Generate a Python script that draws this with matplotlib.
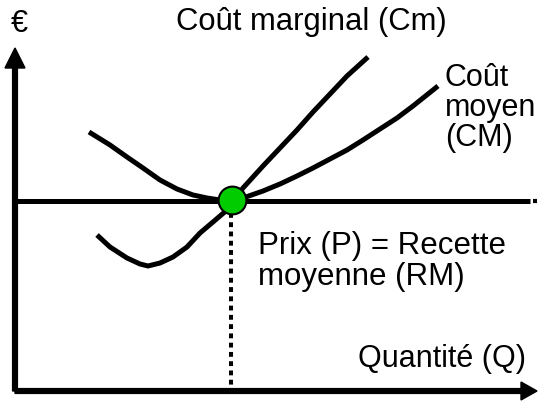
import matplotlib.pyplot as plt

plt.rcParams['font.family'] = ['Liberation Sans', 'DejaVu Sans']

cm_q = [97, 110, 127, 140, 148, 160, 173, 187, 200, 213, 227, 243, 263, 280, 297, 313, 330, 347, 368]
cm_y = [235, 247, 258, 264, 266, 263, 257, 247, 233, 222, 210, 188, 166, 148, 130, 112, 94, 76, 57]

cmoy_q = [89, 110, 127, 143, 160, 177, 193, 207, 220, 232, 243, 263, 280, 297, 313, 330, 347, 363, 380, 397, 413, 438]
cmoy_y = [132, 145, 157, 168, 180, 189, 195, 198, 200, 201, 198, 191, 184, 176, 168, 159, 150, 140, 129, 118, 106, 86]

prix_q = [15, 530]
prix_y = [201, 201]

eq_q = 232   # équilibre
eq_y = 200

fig = plt.figure(figsize=(5.43, 4.01), dpi=100)
ax = fig.add_axes([0, 0, 1, 1])
ax.set_xlim(0, 543)
ax.set_ylim(401, 0)
ax.axis('off')

# axes avec flèches
ax.arrow(15, 391, 0, 48 - 391, width=4.8, head_width=20, head_length=20,
         length_includes_head=True, color='k')
ax.arrow(15, 391, 537 - 15, 0, width=4.8, head_width=18, head_length=16,
         length_includes_head=True, color='k')

# prix
ax.plot(prix_q, prix_y, color='k', lw=3.6, solid_capstyle='butt')
ax.plot([533, 537], [201, 201], color='k', lw=3.0, solid_capstyle='butt')

# courbes de coût
ax.plot(cm_q, cm_y, color='k', lw=3.6, solid_capstyle='butt', solid_joinstyle='round')
ax.plot(cmoy_q, cmoy_y, color='k', lw=3.6, solid_capstyle='butt', solid_joinstyle='round')

# pointillés vers la quantité
ax.plot([231, 231], [213, 388], color='k', lw=2.9, linestyle=(0, (1.2, 1.1)))

ax.plot(eq_q, eq_y, 'o', ms=20, mfc='#00cc00', mec='k', mew=1.5, zorder=5)

# textes (va='baseline' : ligne de base de la dernière ligne)
ax.text(19, 24, '€', fontsize=22, ha='center', va='center')
ax.text(176, 30, 'Coût marginal (Cm)', fontsize=22.3, va='baseline')
ax.text(445, 146, 'Coût\nmoyen\n(CM)', fontsize=22, va='baseline', linespacing=1.0)
ax.text(258, 285, 'Prix (P) = Recette\nmoyenne (RM)', fontsize=22.5, va='baseline', linespacing=1.05)
ax.text(358, 367, 'Quantité (Q)', fontsize=22, va='baseline')

fig.savefig('out.png', dpi=100)
